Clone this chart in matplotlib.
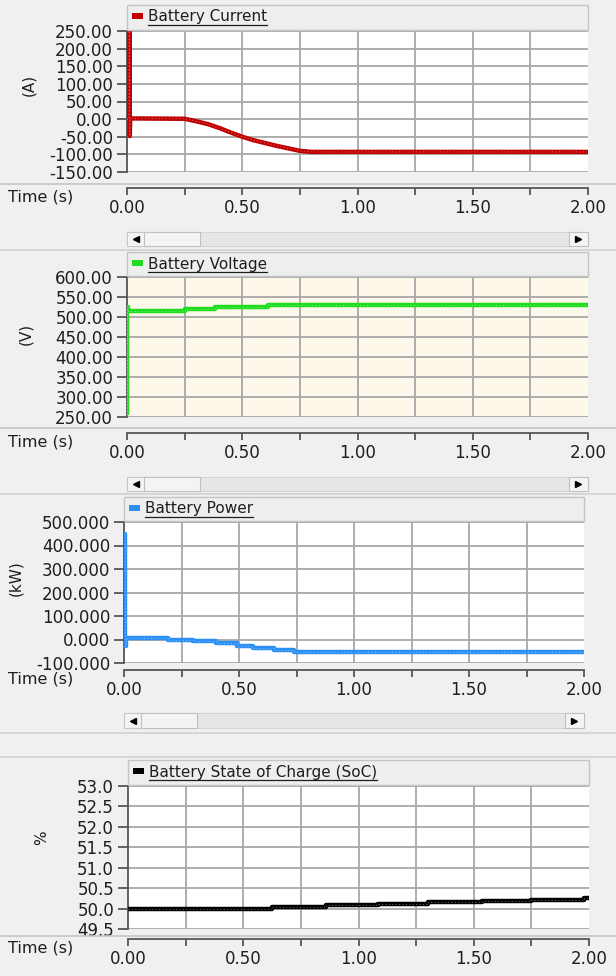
import numpy as np
import matplotlib
matplotlib.use('Agg')
import matplotlib.pyplot as plt
from matplotlib.patches import Rectangle
from matplotlib.lines import Line2D

# ---- data ----
cur_t = [0.0, 0.008, 0.010, 0.012, 0.014, 0.25, 0.30, 0.35, 0.40, 0.45, 0.50, 0.55,
         0.60, 0.65, 0.70, 0.75, 0.80, 2.0]
cur_v = [0.0, 0.0, 270.0, -48.0, 2.0, 1.0, -6.0, -14.0, -25.0, -38.0, -50.0, -60.0,
         -68.0, -76.0, -83.0, -90.0, -93.0, -93.0]

volt_t = [0.0, 0.002, 0.006, 0.25, 0.38, 0.61, 2.0]
volt_v = [255.0, 525.0, 515.0, 520.0, 524.0, 530.0, 530.0]

pow_t = [0.0, 0.004, 0.008, 0.19, 0.30, 0.40, 0.49, 0.56, 0.65, 0.74, 2.0]
pow_v = [450.0, -27.0, 8.0, 0.0, -6.0, -17.0, -28.0, -36.0, -44.0, -52.0, -52.0]

soc_t = [0.0, 0.625, 0.86, 1.085, 1.30, 1.535, 1.75, 1.98, 2.0]
soc_v = [50.0, 50.04, 50.08, 50.11, 50.15, 50.19, 50.22, 50.27, 50.27]

x_major = [0.0, 0.5, 1.0, 1.5, 2.0]
x_major_labels = ['0.00', '0.50', '1.00', '1.50', '2.00']
x_minor = [0.25, 0.75, 1.25, 1.75]

cur_ticks = [250, 200, 150, 100, 50, 0, -50, -100, -150]
volt_ticks = [600, 550, 500, 450, 400, 350, 300, 250]
pow_ticks = [500, 400, 300, 200, 100, 0, -100]
soc_ticks = [53.0, 52.5, 52.0, 51.5, 51.0, 50.5, 50.0, 49.5]

W, H = 616, 976
fig = plt.figure(figsize=(W / 100, H / 100), dpi=100, facecolor='#f0f0f0')
TXT = '#1e1e1e'


def fbox(x0, y0, x1, y1):
    # pixel box (top-left origin) -> figure fraction
    return [x0 / W, 1 - y1 / H, (x1 - x0) / W, (y1 - y0) / H]


def hline(y, x0=0, x1=W, color='#c8c8c8', lw=1.0):
    fig.add_artist(Line2D([x0 / W, x1 / W], [1 - y / H, 1 - y / H], color=color, lw=lw,
                          transform=fig.transFigure))


def rect(x0, y0, x1, y1, fc, ec='none', lw=1.0):
    fig.add_artist(Rectangle((x0 / W, 1 - y1 / H), (x1 - x0) / W, (y1 - y0) / H,
                             facecolor=fc, edgecolor=ec, lw=lw, transform=fig.transFigure))


panels = [
    dict(t=cur_t, v=cur_v, ds='default', color='#c00000', title='Battery Current',
         ticks=cur_ticks, fmt='{:.2f}', ylim=(-150, 250), ylabel='(A)', ylab_xy=(29, 85),
         bg='white', plot=(127, 31, 588, 172), bar=(127, 5, 588, 30), xaxis=188,
         time_y=197, scroll=(232, 246), sep=184),
    dict(t=volt_t, v=volt_v, ds='steps-post', color='#1edc1e', title='Battery Voltage',
         ticks=volt_ticks, fmt='{:.2f}', ylim=(250, 600), ylabel='(V)', ylab_xy=(26, 334),
         bg='#fdf8ea', plot=(127, 277, 588, 417), bar=(127, 252, 588, 276), xaxis=433,
         time_y=442, scroll=(477, 491), sep=428),
    dict(t=pow_t, v=pow_v, ds='steps-post', color='#2b8ff5', title='Battery Power',
         ticks=pow_ticks, fmt='{:.3f}', ylim=(-100, 500), ylabel='(kW)', ylab_xy=(16, 578),
         bg='white', plot=(124, 522, 584, 663), bar=(124, 497, 584, 521), xaxis=670,
         time_y=679, scroll=(713, 728), sep=None),
    dict(t=soc_t, v=soc_v, ds='steps-post', color='#000000',
         title='Battery State of Charge (SoC)', ticks=soc_ticks, fmt='{:.1f}',
         ylim=(49.5, 53.0), ylabel='%', ylab_xy=(42, 838), bg='white',
         plot=(128, 786, 589, 929), bar=(128, 760, 589, 785), xaxis=939,
         time_y=948, scroll=None, sep=936),
]

# window separators between the graph frames
for y in [250, 494, 733, 757]:
    hline(y, color='#d0d0d0', lw=1.2)

titles = []
for p in panels:
    x0, y0, x1, y1 = p['plot']
    ax = fig.add_axes(fbox(x0, y0, x1, y1))
    ax.set_facecolor(p['bg'])
    ax.plot(p['t'], p['v'], color=p['color'], lw=3.2, drawstyle=p['ds'],
            solid_capstyle='butt', zorder=3)
    ax.plot(p['t'], p['v'], color='white', lw=0.7, ls=(0, (1, 2.5)), alpha=0.45,
            drawstyle=p['ds'], zorder=4)
    ax.set_xlim(0, 2)
    ax.set_ylim(*p['ylim'])
    ax.set_xticks(x_minor + [0.5, 1.0, 1.5])
    ax.tick_params(axis='x', length=0, labelbottom=False)
    ax.set_yticks(p['ticks'])
    ax.set_yticklabels([p['fmt'].format(v) for v in p['ticks']])
    ax.tick_params(axis='y', length=7, width=1.3, color='#555555', pad=3,
                   labelsize=12, labelcolor=TXT)
    ax.grid(True, color='#a8a8a8', lw=1.3)
    ax.set_axisbelow(True)
    for s in ['top', 'right', 'bottom']:
        ax.spines[s].set_visible(False)
    ax.spines['left'].set_color('#555555')
    ax.spines['left'].set_linewidth(1.3)

    # separate time axis under the plot
    xa = p['xaxis']
    axx = fig.add_axes(fbox(x0, xa - 2, x1, xa))
    axx.patch.set_visible(False)
    for s in ['top', 'right', 'left']:
        axx.spines[s].set_visible(False)
    axx.spines['bottom'].set_color('#555555')
    axx.spines['bottom'].set_linewidth(1.3)
    axx.set_xlim(0, 2)
    axx.set_yticks([])
    axx.set_xticks(x_major)
    axx.set_xticklabels(x_major_labels)
    axx.set_xticks(x_minor, minor=True)
    axx.tick_params(axis='x', which='both', length=5, width=1.3, color='#555555',
                    pad=3, labelsize=12, labelcolor=TXT)

    fig.text(8 / W, 1 - p['time_y'] / H, 'Time (s)', fontsize=11.5, color=TXT,
             ha='left', va='center')
    lx, ly = p['ylab_xy']
    fig.text(lx / W, 1 - ly / H, p['ylabel'], fontsize=11, color=TXT,
             rotation=90, ha='center', va='center')

    if p['sep'] is not None:
        hline(p['sep'], color='#c4c4c4', lw=1.2)

    # legend / title bar
    bx0, by0, bx1, by1 = p['bar']
    rect(bx0, by0, bx1, by1, '#eeeeee', '#c4c4c4', 1.0)
    rect(bx0 + 5, by0 + 8, bx0 + 16, by0 + 14, p['color'])
    t = fig.text((bx0 + 21) / W, 1 - (by0 + 12) / H, p['title'], fontsize=11,
                 color=TXT, ha='left', va='center')
    titles.append((t, by0 + 20))

    # scroll bar
    if p['scroll'] is not None:
        sy0, sy1 = p['scroll']
        rect(x0, sy0, x1, sy1, '#e6e6e6', '#d4d4d4', 0.8)
        rect(x0, sy0, x0 + 17, sy1, '#f4f4f4', '#c8c8c8', 0.8)
        rect(x0 + 17, sy0, x0 + 73, sy1, '#f4f4f4', '#c0c0c0', 0.8)
        rect(x1 - 19, sy0, x1, sy1, '#f4f4f4', '#c0c0c0', 0.8)
        fig.add_artist(Line2D([(x0 + 9) / W], [1 - (sy0 + sy1) / 2 / H], marker='<',
                              ms=4, color='black', transform=fig.transFigure))
        fig.add_artist(Line2D([(x1 - 10) / W], [1 - (sy0 + sy1) / 2 / H], marker='>',
                              ms=4, color='black', transform=fig.transFigure))

# underline the legend titles
fig.canvas.draw()
r = fig.canvas.get_renderer()
for t, uy in titles:
    bb = t.get_window_extent(r)
    hline(uy, bb.x0, bb.x1, color=TXT, lw=0.9)

fig.savefig('out.png', dpi=100, facecolor=fig.get_facecolor())
